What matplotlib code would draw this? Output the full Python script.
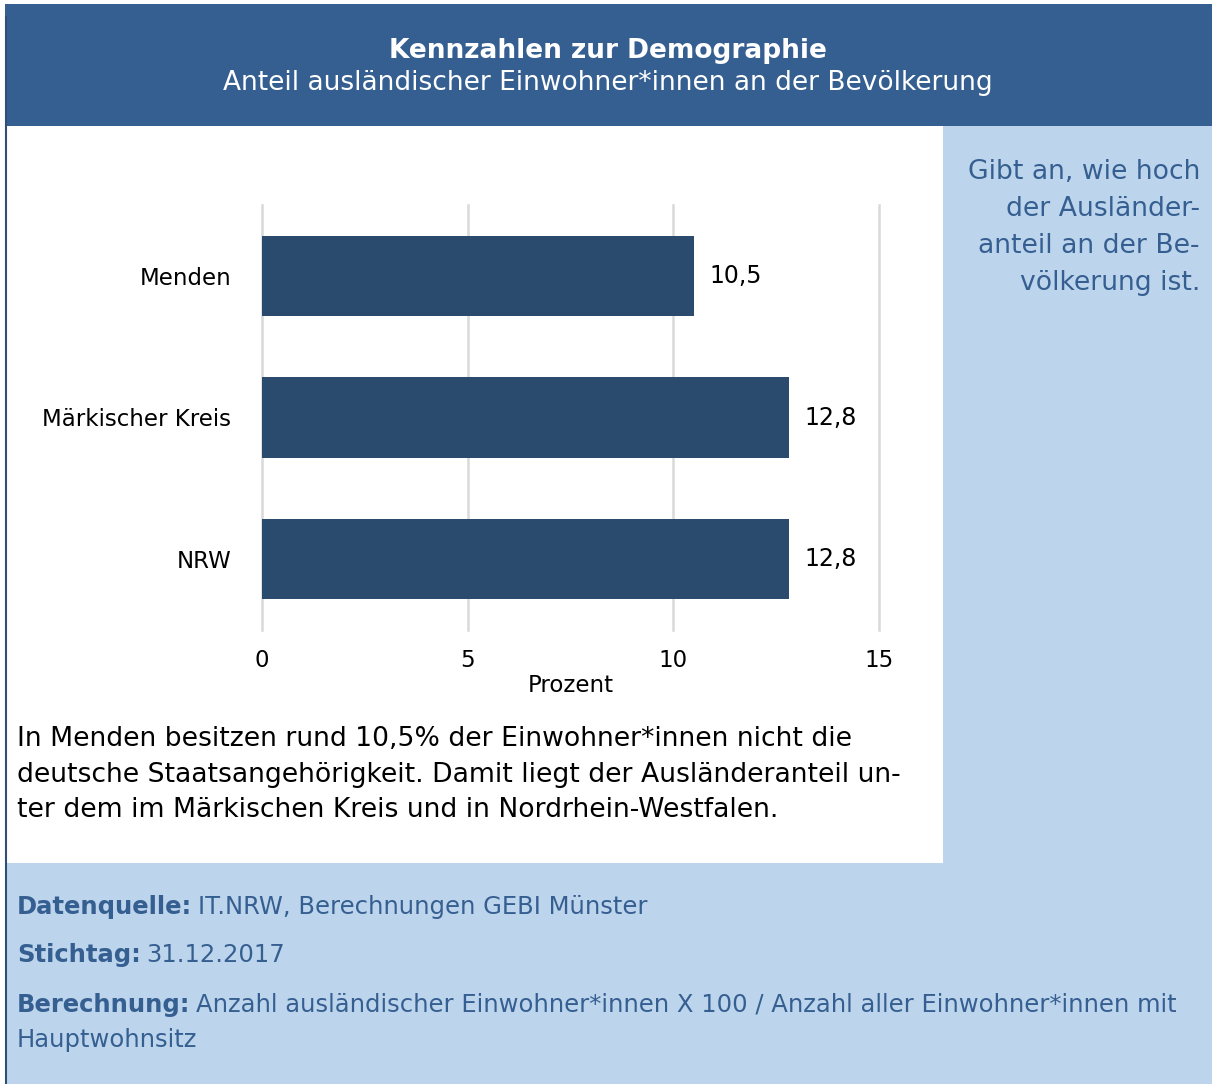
import matplotlib.pyplot as plt
from matplotlib.patches import Rectangle

# Ausländeranteil in Prozent
regions = ["Menden", "Märkischer Kreis", "NRW"]
shares = [10.5, 12.8, 12.8]
x_ticks = [0, 5, 10, 15]

HEADER_BLUE = "#355F91"
PANEL_BLUE = "#BDD5EC"
TEXT_BLUE = "#365F91"
BAR_BLUE = "#2A4A6E"
FONT = "DejaVu Sans"

W, H = 1212, 1084
fig = plt.figure(figsize=(W / 100, H / 100), dpi=100)
fig.patch.set_facecolor("white")

# page layer in pixel coordinates for boxes and running text
page = fig.add_axes([0, 0, 1, 1])
page.set_xlim(0, W)
page.set_ylim(H, 0)
page.axis("off")

page.add_patch(Rectangle((5, 4), W - 5, 122, facecolor=HEADER_BLUE, edgecolor="none"))
page.add_patch(Rectangle((943, 126), W - 943, 737, facecolor=PANEL_BLUE, edgecolor="none"))
page.add_patch(Rectangle((6, 863), W - 6, H - 863, facecolor=PANEL_BLUE, edgecolor="none"))
page.plot([5.5, 5.5], [17, H], color="#2E4F78", lw=1.5)

page.text(608, 51, "Kennzahlen zur Demographie", color="white", fontsize=19,
          fontweight="bold", ha="center", va="center", family=FONT)
page.text(608, 83, "Anteil ausländischer Einwohner*innen an der Bevölkerung",
          color="white", fontsize=19, ha="center", va="center", family=FONT)

side_lines = ["Gibt an, wie hoch", "der Ausländer-", "anteil an der Be-", "völkerung ist."]
for i, line in enumerate(side_lines):
    page.text(1200, 172 + i * 37, line, color=TEXT_BLUE, fontsize=19.2,
              ha="right", va="center", family=FONT)

body_lines = [
    "In Menden besitzen rund 10,5% der Einwohner*innen nicht die",
    "deutsche Staatsangehörigkeit. Damit liegt der Ausländeranteil un-",
    "ter dem im Märkischen Kreis und in Nordrhein-Westfalen.",
]
for i, line in enumerate(body_lines):
    page.text(17, 739 + i * 35.5, line, color="black", fontsize=19.2,
              ha="left", va="center", family=FONT)

notes = [
    ("Datenquelle:", "IT.NRW, Berechnungen GEBI Münster", 907),
    ("Stichtag:", "31.12.2017", 955),
    ("Berechnung:", "Anzahl ausländischer Einwohner*innen X 100 / Anzahl aller Einwohner*innen mit", 1005),
]
for label, rest, y in notes:
    lab = page.text(17, y, label, color=TEXT_BLUE, fontsize=17.5, fontweight="bold",
                    ha="left", va="center", family=FONT)
    page.annotate(rest, xy=(1, 0.5), xycoords=lab, xytext=(4, 0),
                  textcoords="offset points", color=TEXT_BLUE, fontsize=17.5,
                  ha="left", va="center", family=FONT)
page.text(17, 1040, "Hauptwohnsitz", color=TEXT_BLUE, fontsize=17.5,
          ha="left", va="center", family=FONT)

# bar chart
ax = fig.add_axes([262 / W, 1 - 630 / H, 617 / W, 425 / H])
ax.set_facecolor("none")
ypos = list(range(len(regions)))
ax.barh(ypos, shares, height=0.567, color=BAR_BLUE, zorder=3)
for y, v in zip(ypos, shares):
    ax.annotate(f"{v:.1f}".replace(".", ","), xy=(v, y), xytext=(11.5, 0),
                textcoords="offset points", ha="left", va="center",
                fontsize=17, color="black", family=FONT)
ax.set_xlim(0, 15)
ax.set_ylim(2.5, -0.5)
ax.set_xticks(x_ticks)
ax.set_xticklabels([str(t) for t in x_ticks], fontsize=16.5, family=FONT)
ax.set_yticks(ypos)
ax.set_yticklabels(regions, fontsize=16.5, family=FONT)
ax.tick_params(axis="x", length=0, pad=14)
ax.tick_params(axis="y", length=0, pad=22)
ax.grid(axis="x", color="#D9D9D9", lw=1.8, zorder=0)
for gl in ax.get_xgridlines():
    gl.set_clip_on(False)
for s in ax.spines.values():
    s.set_visible(False)
ax.set_xlabel("Prozent", fontsize=16.5, family=FONT, labelpad=1)

fig.savefig("out.png", dpi=100)
